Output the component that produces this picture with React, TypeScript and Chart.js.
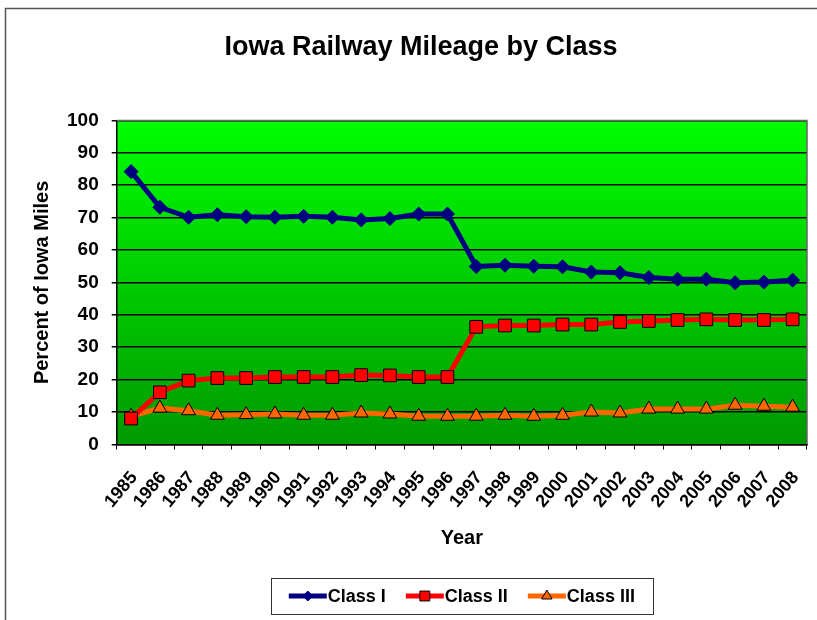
import React, { useEffect, useRef } from 'react';
import { Chart, registerables } from 'chart.js';
import { drawPoint } from 'chart.js/helpers';

Chart.register(...registerables);

const years = ['1985', '1986', '1987', '1988', '1989', '1990', '1991', '1992', '1993', '1994', '1995', '1996', '1997', '1998', '1999', '2000', '2001', '2002', '2003', '2004', '2005', '2006', '2007', '2008'];
const classI = [84.2, 73.2, 70.1, 70.9, 70.3, 70.1, 70.4, 70.1, 69.3, 69.7, 71.1, 71.1, 54.9, 55.3, 55.0, 54.8, 53.2, 53.0, 51.5, 51.0, 51.0, 49.9, 50.1, 50.7];
const classII = [8.0, 16.1, 19.7, 20.5, 20.5, 20.8, 20.8, 20.8, 21.4, 21.3, 20.8, 20.8, 36.3, 36.7, 36.7, 37.0, 37.0, 37.8, 38.1, 38.4, 38.6, 38.4, 38.4, 38.6];
const classIII = [8.7, 11.2, 10.4, 9.0, 9.2, 9.4, 9.0, 9.0, 9.7, 9.4, 8.7, 8.7, 8.7, 9.0, 8.7, 9.0, 10.0, 9.7, 10.9, 10.9, 10.9, 12.1, 11.8, 11.5];
const seriesNames = ['Class I', 'Class II', 'Class III'];
const yMin = 0;
const yMax = 100;
const yStep = 10;

const FONT = "'Liberation Sans', Arial, sans-serif";

const backgroundPlugin = {
  id: 'bgPlugin',
  beforeDraw(chart: any) {
    const { ctx, chartArea, width, height } = chart;
    ctx.save();
    ctx.fillStyle = '#ffffff';
    ctx.fillRect(0, 0, width, height);
    ctx.strokeStyle = '#555555';
    ctx.lineWidth = 1.5;
    ctx.strokeRect(5.5, 8.5, width + 20, height + 20);
    const g = ctx.createLinearGradient(0, chartArea.top, 0, chartArea.bottom);
    g.addColorStop(0, '#00ff00');
    g.addColorStop(1, '#009900');
    ctx.fillStyle = g;
    ctx.fillRect(chartArea.left, chartArea.top, chartArea.right - chartArea.left, chartArea.bottom - chartArea.top);
    ctx.restore();
  },
  beforeDatasetsDraw(chart: any) {
    const { ctx, chartArea } = chart;
    ctx.save();
    ctx.strokeStyle = '#666666';
    ctx.lineWidth = 1.5;
    ctx.beginPath();
    ctx.moveTo(chartArea.left, chartArea.top);
    ctx.lineTo(chartArea.right, chartArea.top);
    ctx.lineTo(chartArea.right, chartArea.bottom);
    ctx.stroke();
    ctx.restore();
  },
};

const legendPlugin = {
  id: 'boxLegend',
  afterDraw(chart: any) {
    const { ctx } = chart;
    const datasets = chart.data.datasets;
    ctx.save();
    ctx.font = `bold 18px ${FONT}`;
    const lineLen = 38;
    const gap = 20;
    const widths = datasets.map((d: any) => lineLen + 1 + ctx.measureText(d.label).width);
    const total = widths.reduce((a: number, b: number) => a + b, 0) + gap * (datasets.length - 1);
    const padX = 18;
    const boxW = total + padX * 2;
    const boxTop = 578;
    const boxH = 36;
    const cx = (chart.chartArea.left + chart.chartArea.right) / 2;
    const boxLeft = cx - boxW / 2;
    ctx.fillStyle = '#ffffff';
    ctx.fillRect(boxLeft, boxTop, boxW, boxH);
    ctx.strokeStyle = '#333333';
    ctx.lineWidth = 1;
    ctx.strokeRect(Math.round(boxLeft) + 0.5, boxTop + 0.5, Math.round(boxW), boxH);
    let x = boxLeft + padX;
    const y = boxTop + boxH / 2;
    datasets.forEach((d: any, i: number) => {
      ctx.strokeStyle = d.borderColor;
      ctx.lineWidth = 5;
      ctx.beginPath();
      ctx.moveTo(x, y);
      ctx.lineTo(x + lineLen, y);
      ctx.stroke();
      ctx.fillStyle = d.pointBackgroundColor;
      ctx.strokeStyle = d.pointBorderColor;
      ctx.lineWidth = 1;
      drawPoint(ctx, { pointStyle: d.pointStyle, radius: d.legendRadius, rotation: 0, borderWidth: 1 }, x + lineLen / 2, y);
      ctx.fillStyle = '#000000';
      ctx.textBaseline = 'middle';
      ctx.textAlign = 'left';
      ctx.fillText(d.label, x + lineLen + 1, y + 1);
      x += widths[i] + gap;
    });
    ctx.restore();
  },
};

export default function App() {
  const ref = useRef<HTMLCanvasElement>(null);
  useEffect(() => {
    document.body.style.margin = '0';
    const canvas = ref.current!;
    const chart = new Chart(canvas, {
      type: 'line',
      data: {
        labels: years,
        datasets: [
          {
            label: seriesNames[0],
            data: classI,
            borderColor: '#000080',
            backgroundColor: '#000080',
            pointBackgroundColor: '#000080',
            pointBorderColor: '#000080',
            borderWidth: 5,
            pointStyle: 'rectRot',
            pointRadius: 7,
            pointBorderWidth: 1,
            legendRadius: 5,
          } as any,
          {
            label: seriesNames[1],
            data: classII,
            borderColor: '#ff0000',
            backgroundColor: '#ff0000',
            pointBackgroundColor: '#ff0000',
            pointBorderColor: '#000000',
            borderWidth: 5,
            pointStyle: 'rect',
            pointRadius: 9,
            pointBorderWidth: 1,
            legendRadius: 7,
          } as any,
          {
            label: seriesNames[2],
            data: classIII,
            borderColor: '#ff6600',
            backgroundColor: '#ff6600',
            pointBackgroundColor: '#ff6600',
            pointBorderColor: '#000000',
            borderWidth: 5,
            pointStyle: 'triangle',
            pointRadius: 8,
            pointBorderWidth: 1,
            legendRadius: 6,
          } as any,
        ],
      },
      options: {
        animation: false,
        responsive: false,
        maintainAspectRatio: false,
        layout: { padding: { left: 30, right: 5, top: 0, bottom: 70 } },
        plugins: {
          legend: { display: false },
          tooltip: { enabled: false },
          title: {
            display: true,
            text: 'Iowa Railway Mileage by Class',
            color: '#000000',
            font: { family: FONT, size: 27, weight: 'bold' },
            padding: { top: 31, bottom: 57 },
          },
        },
        scales: {
          x: {
            type: 'category',
            offset: true,
            afterFit: (scale: any) => {
              scale.paddingRight = 0;
            },
            grid: {
              display: true,
              offset: true,
              drawOnChartArea: false,
              drawTicks: true,
              tickLength: 5,
              color: '#000000',
            },
            border: { display: true, color: '#000000', width: 1.5 },
            ticks: {
              color: '#000000',
              font: { family: FONT, size: 18, weight: 'bold' },
              minRotation: 50,
              maxRotation: 50,
              autoSkip: false,
              padding: 18,
              labelOffset: 3,
            },
            title: {
              display: true,
              text: 'Year',
              color: '#000000',
              font: { family: FONT, size: 20, weight: 'bold' },
              padding: { top: -4, bottom: 0 },
            },
          },
          y: {
            min: yMin,
            max: yMax,
            grid: {
              color: '#000000',
              lineWidth: 1.5,
              tickLength: 5,
            },
            border: { display: true, color: '#000000', width: 1.5 },
            ticks: {
              stepSize: yStep,
              color: '#000000',
              font: { family: FONT, size: 19, weight: 'bold' },
              padding: 13,
            },
            title: {
              display: true,
              text: 'Percent of Iowa Miles',
              color: '#000000',
              font: { family: FONT, size: 20, weight: 'bold' },
              padding: { top: 0, bottom: 0 },
            },
          },
        },
      },
      plugins: [backgroundPlugin, legendPlugin],
    });
    return () => chart.destroy();
  }, []);
  return <canvas ref={ref} width={817} height={620} style={{ display: 'block', width: 817, height: 620 }} />;
}
